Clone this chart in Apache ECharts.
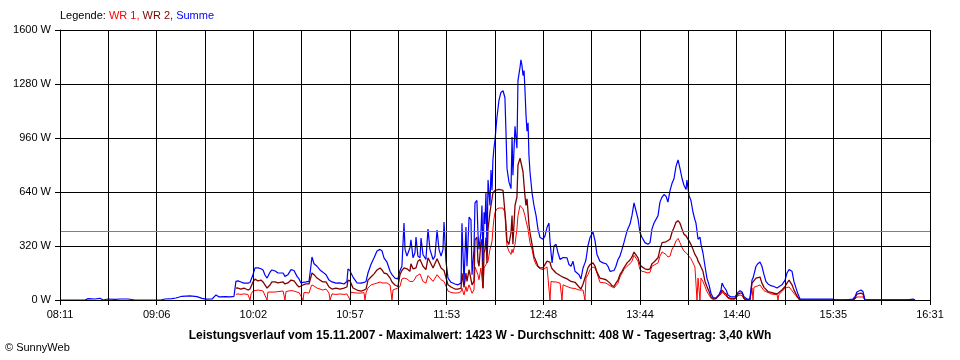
<!DOCTYPE html>
<html><head><meta charset="utf-8">
<script src="https://cdn.jsdelivr.net/npm/echarts@6/dist/echarts.min.js"></script>
<style>html,body{margin:0;padding:0;background:#fff}#c{width:960px;height:360px}</style>
</head><body><div id="c"></div>
<script>
// x tick labels (every second tick of 18 intervals between 08:11 and 16:31)
const xTickLabels = ['08:11','09:06','10:02','10:57','11:53','12:48','13:44','14:40','15:35','16:31'];
const spanMinutes = 500;          // 08:11 .. 16:31
const tickCount = 18;             // vertical grid intervals
const yMax = 1600, yStep = 320;   // y axis in W
const averageW = 408;             // Durchschnitt line

// sample times: minutes after 08:11
const times = [
0,14.4,16.1,20.1,23.0,24.7,27.6,31.6,34.5,39.1,
43.1,58.0,60.3,64.4,66.7,70.1,74.7,78.7,81.6,83.9,
87.4,89.7,91.4,94.8,97.7,100.0,101.1,102.3,104.0,105.7,
108.0,109.2,109.8,110.9,112.1,113.8,115.5,116.7,117.8,119.0,
119.5,120.7,121.8,123.6,125.3,126.4,128.2,129.3,129.9,131.0,
132.8,134.5,136.2,137.4,138.5,139.7,140.2,141.4,143.1,144.2,
144.8,146.0,147.7,149.4,151.1,152.9,154.6,155.2,156.3,158.6,
160.9,163.2,164.9,165.5,166.7,167.2,168.4,170.7,173.0,174.7,
175.3,175.9,177.0,178.7,180.5,182.2,183.9,185.1,186.2,187.9,
189.7,190.8,191.4,192.5,194.2,195.4,196.5,197.7,198.3,199.4,
201.1,201.7,202.9,204.0,204.6,205.7,206.9,207.5,208.6,210.3,
211.5,212.6,214.4,215.5,216.7,217.8,219.0,220.1,220.7,221.8,
223.0,224.7,227.0,228.7,230.5,231.0,232.2,233.3,233.9,235.1,
236.2,236.8,237.9,238.5,239.6,240.2,240.8,241.9,242.5,243.1,
243.7,244.2,244.8,245.4,246.0,247.1,247.7,248.3,248.8,249.4,
250.0,251.1,252.3,253.4,254.6,255.7,256.3,256.9,258.0,259.2,
259.8,260.3,261.5,262.6,263.2,264.4,264.9,265.5,266.1,266.7,
267.2,267.8,268.4,269.0,269.5,270.1,271.3,272.4,273.6,274.7,
275.9,277.6,278.7,279.9,281.0,281.6,282.2,282.8,283.9,285.1,
286.2,287.4,288.5,289.1,290.2,291.4,292.5,293.7,294.8,296.0,
297.1,298.3,299.4,300.6,301.7,302.3,303.4,304.6,306.3,307.5,
308.6,310.3,312.1,313.8,314.9,316.1,317.2,318.4,319.5,320.7,
321.8,323.0,324.1,325.9,327.6,328.7,329.9,331.0,332.2,333.3,
334.5,336.2,337.9,339.1,340.2,341.4,342.5,343.7,344.8,346.0,
347.1,348.3,349.4,350.6,351.7,352.9,354.0,355.2,356.3,357.5,
358.6,359.8,360.3,361.5,362.6,363.8,364.9,365.5,366.1,366.7,
367.8,368.4,369.5,370.7,371.8,373.0,374.1,375.3,377.0,378.7,
379.9,380.5,381.6,382.8,383.9,385.6,387.9,389.6,390.8,392.0,
393.1,394.8,396.5,397.7,398.3,398.8,400.0,401.1,402.3,403.4,
404.6,405.7,406.9,408.6,410.3,412.1,412.6,413.2,414.9,416.7,
417.8,419.0,419.5,420.7,421.8,423.0,424.1,425.3,444.2,445.4,
450.6,451.1,455.7,456.9,458.0,458.6,460.3,461.5,462.6,486.2,
487.3,490.2,491.4
];

// Summe (W)
const summe = [
0,0,8,6,10,0,6,4,6,6,
0,0,6,8,12,22,24,20,10,5,
6,30,18,20,18,22,110,113,107,100,
100,104,106,150,190,190,185,178,148,130,
140,165,178,172,160,170,160,140,145,150,
180,175,140,125,100,105,106,107,110,200,
255,215,200,178,165,150,118,112,107,100,
101,95,110,183,175,160,136,101,100,104,
106,110,160,210,250,290,300,290,250,225,
170,150,145,130,125,175,200,456,300,260,
310,356,250,280,373,260,250,367,270,240,
420,300,240,260,415,300,260,300,462,230,
130,105,95,90,100,455,100,433,200,492,
475,150,296,575,590,400,300,400,560,230,
520,450,634,300,711,560,770,650,830,900,
948,1080,1185,1230,1240,1200,1000,780,700,660,
966,740,1030,900,1300,1380,1423,1390,1330,1360,
1250,1100,1000,1050,860,760,634,560,500,420,
370,360,380,430,456,350,280,220,320,330,
280,240,250,252,255,250,210,200,230,170,
160,150,125,190,220,240,320,370,403,350,
270,230,220,215,200,170,166,175,200,240,
260,300,340,410,450,500,575,570,480,400,
370,340,330,340,420,456,460,500,580,610,
625,615,580,650,690,720,790,830,780,720,
680,655,711,620,590,520,475,456,460,360,
373,330,280,200,130,90,40,15,12,30,
60,100,77,60,30,18,18,45,55,47,
20,6,6,118,130,150,200,215,225,200,
150,110,95,85,80,71,71,75,90,118,
160,180,190,170,110,70,35,6,6,0,
0,6,6,20,47,55,59,50,0,0,
6,6,0
];

// WR 2 (W)
const wr2 = [
null,null,null,null,null,null,null,null,null,null,
null,null,null,null,null,null,null,null,null,null,
null,null,null,null,null,null,70,71,65,71,
59,65,66,107,124,113,118,107,89,71,
80,89,107,107,101,95,107,95,98,101,
118,113,89,77,71,89,92,95,95,136,
160,150,130,118,107,107,77,70,65,71,
65,71,77,118,113,100,71,59,53,59,
61,65,118,136,155,178,190,178,160,155,
130,107,100,89,80,150,175,190,196,185,
170,215,185,175,190,230,240,250,200,180,
250,255,190,185,245,255,190,180,175,165,
90,77,65,65,70,160,75,160,110,180,
170,90,110,356,373,230,200,340,360,70,
280,300,370,220,420,520,560,600,634,640,
650,660,655,650,650,640,450,350,330,400,
500,330,560,610,800,840,848,830,760,680,
620,560,600,520,450,400,330,260,230,200,
190,190,200,230,237,225,200,185,180,160,
150,145,140,135,130,125,118,110,107,105,
100,77,65,95,130,150,190,210,220,200,
165,130,125,120,115,100,85,80,100,118,
150,170,190,220,237,255,284,280,250,210,
196,185,180,185,215,225,225,250,300,340,
350,345,350,360,400,430,460,470,455,420,
390,380,390,350,330,300,270,260,250,230,
210,195,170,110,80,50,20,8,10,30,
45,59,45,35,15,8,8,35,41,41,
10,0,0,100,105,110,130,136,136,100,
75,65,50,45,40,36,36,40,59,80,
100,118,115,90,60,35,15,0,0,0,
0,0,0,10,35,41,41,35,0,0,
0,0,0
];

// WR 1 (W)
const wr1 = [
null,null,null,null,null,null,null,null,null,null,
null,null,null,null,null,null,null,null,null,null,
null,null,null,null,null,null,33,36,33,36,
33,0,36,53,56,59,56,53,47,0,
47,47,44,47,50,53,53,0,50,53,
56,53,47,44,44,0,44,44,41,77,
89,83,71,65,59,65,41,0,36,33,
36,33,36,47,0,47,44,41,41,44,
0,44,71,89,95,100,107,101,104,101,
89,0,60,59,71,80,125,130,133,125,
110,115,110,125,140,150,155,150,110,100,
145,150,110,100,150,145,120,115,110,107,
53,45,41,42,50,70,30,80,50,90,
95,40,60,196,207,150,120,190,200,70,
190,196,210,200,230,300,320,350,420,480,
520,540,545,540,545,520,400,320,290,270,
300,280,330,420,500,560,570,560,540,530,
500,470,470,420,380,340,300,240,210,195,
185,180,190,196,196,0,110,107,107,107,
105,100,0,90,90,80,75,71,71,68,
65,59,59,59,0,130,150,180,196,190,
160,105,103,100,95,85,75,71,85,100,
136,160,180,200,215,230,265,270,230,180,
170,166,160,165,200,207,207,220,260,285,
290,270,255,260,300,320,350,365,340,310,
290,280,285,260,245,220,196,190,0,130,
0,130,110,80,50,30,10,4,6,25,
35,47,35,25,10,5,5,25,30,25,
5,0,0,71,0,75,80,89,89,80,
55,50,45,36,33,33,0,33,50,71,
77,77,75,55,40,25,10,0,0,0,
0,0,0,5,18,18,18,18,0,0,
0,0,0
];

const chart = echarts.init(document.getElementById('c'), null, {renderer: 'canvas'});
const toTick = t => t * tickCount / spanMinutes;
const mk = arr => times.map((t, i) => [toTick(t), arr[i]]);
const font = 'Liberation Sans, Arial, sans-serif';

chart.setOption({
  animation: false,
  backgroundColor: '#ffffff',
  textStyle: {fontFamily: font},
  title: [
    {
      left: 60, top: 10, padding: 0,
      text: '{k|Legende: }{a|WR 1, }{b|WR 2, }{c|Summe}',
      textStyle: {
        fontSize: 11, fontWeight: 'normal',
        rich: {
          k: {color: '#000000', fontSize: 11, fontFamily: font},
          a: {color: '#ff0000', fontSize: 11, fontFamily: font},
          b: {color: '#800000', fontSize: 11, fontFamily: font},
          c: {color: '#0000ff', fontSize: 11, fontFamily: font}
        }
      }
    },
    {
      left: 'center', top: 330, padding: 0,
      text: 'Leistungsverlauf vom 15.11.2007 - Maximalwert: 1423 W - Durchschnitt: 408 W - Tagesertrag: 3,40 kWh',
      textStyle: {fontSize: 12, fontWeight: 'bold', color: '#000000', fontFamily: font}
    },
    {
      left: 5, top: 342, padding: 0,
      text: '\u00A9 SunnyWeb',
      textStyle: {fontSize: 11, fontWeight: 'normal', color: '#000000', fontFamily: font}
    }
  ],
  grid: {left: 60, top: 30, width: 870, height: 270, containLabel: false},
  xAxis: {
    type: 'value', min: 0, max: tickCount, interval: 1, z: 5,
    axisLine: {show: true, lineStyle: {color: '#000000', width: 1}},
    axisTick: {show: true, length: 5, lineStyle: {color: '#000000', width: 1}},
    axisLabel: {
      color: '#000000', fontSize: 11, margin: 9, showMinLabel: true, showMaxLabel: true,
      formatter: v => { const k = Math.round(v); return k % 2 === 0 ? xTickLabels[k / 2] : ''; }
    },
    splitLine: {show: true, lineStyle: {color: '#000000', width: 1}}
  },
  yAxis: {
    type: 'value', min: 0, max: yMax, interval: yStep, z: 5,
    axisLine: {show: true, lineStyle: {color: '#000000', width: 1}},
    axisTick: {show: true, length: 5, lineStyle: {color: '#000000', width: 1}},
    axisLabel: {color: '#000000', fontSize: 11, margin: 9, formatter: v => String(v) + ' W'},
    splitLine: {show: true, lineStyle: {color: '#000000', width: 1}}
  },
  series: [
    {name: 'WR 1', type: 'line', data: mk(wr1), symbol: 'none', showSymbol: false, z: 2,
     lineStyle: {color: '#ff0000', width: 1}, itemStyle: {color: '#ff0000'}},
    {name: 'WR 2', type: 'line', data: mk(wr2), symbol: 'none', showSymbol: false, z: 3,
     lineStyle: {color: '#800000', width: 1.3}, itemStyle: {color: '#800000'}},
    {name: 'Summe', type: 'line', data: mk(summe), symbol: 'none', showSymbol: false, z: 4,
     lineStyle: {color: '#0000ff', width: 1.2}, itemStyle: {color: '#0000ff'},
     markLine: {silent: true, symbol: 'none', label: {show: false},
       lineStyle: {color: '#808080', width: 1, type: 'solid'},
       data: [{yAxis: averageW}]}}
  ]
});
</script>
</body></html>
